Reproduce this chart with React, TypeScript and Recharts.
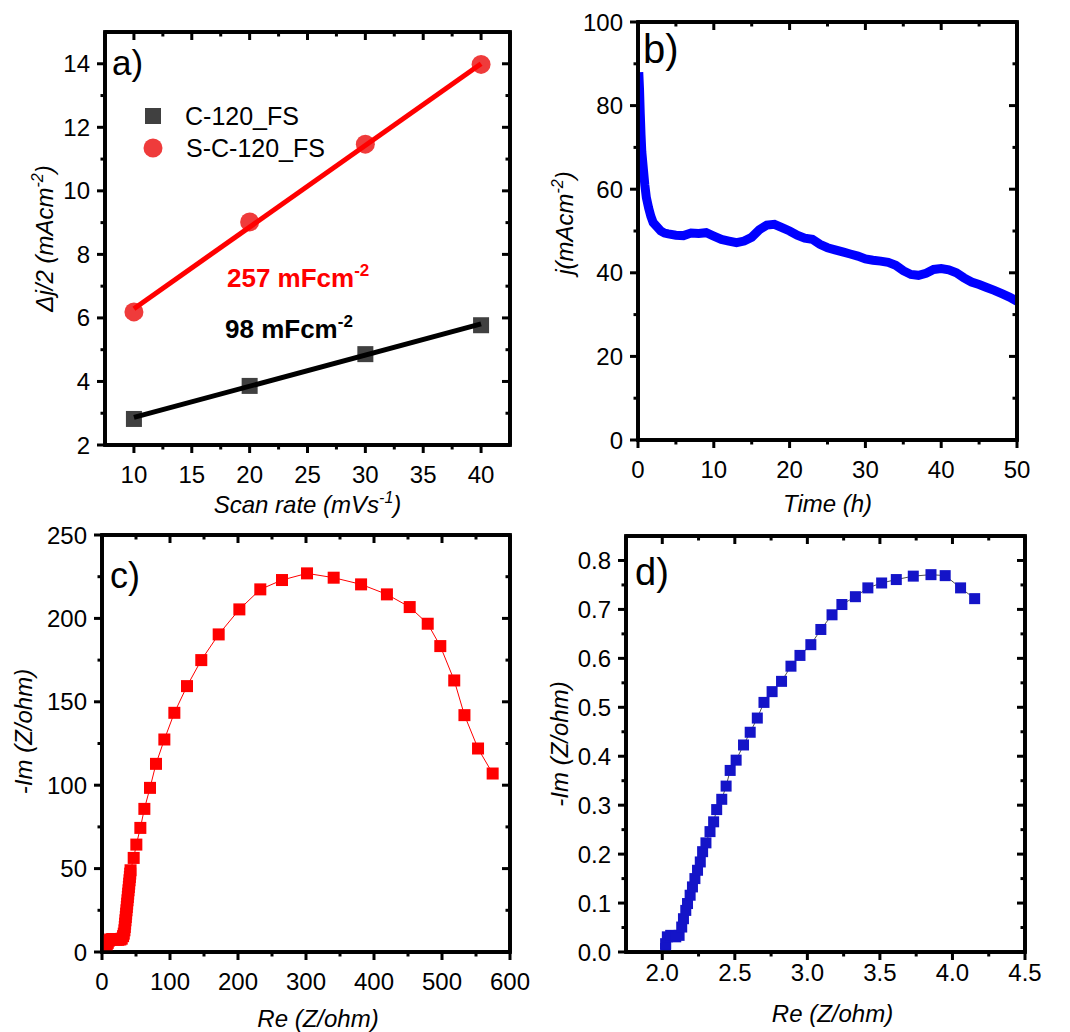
import React from 'react';
import { ComposedChart, Scatter, Line, XAxis, YAxis, Label, ReferenceArea } from 'recharts';

const FONT = '"Liberation Sans", Arial, Helvetica, sans-serif';

// a) half current density difference vs scan rate
const scanRate = [10, 20, 30, 40];
const djC120 = [2.82, 3.86, 4.86, 5.77];
const djSC120 = [6.19, 9.02, 11.47, 13.98];
const fitRate = [10, 40];
const fitC120 = [2.87, 5.81];
const fitSC120 = [6.29, 14.0];

// b) chronoamperometry
const timeH = [
  0.1, 0.2, 0.3, 0.4, 0.5, 0.7, 0.9, 1.1, 1.4, 1.7, 2.0, 2.5, 3.0, 3.5, 4, 5, 6, 7, 8, 9, 10,
  11, 12, 13, 14, 15, 16, 17, 18, 19, 20, 21, 22, 23, 24, 25, 26, 27, 28, 29, 30, 31, 32, 33,
  34, 35, 36, 37, 38, 39, 40, 41, 42, 43, 44, 45, 46, 47, 48, 49, 50,
];
const currentJ = [
  88, 84, 78, 73, 69, 65, 61, 58, 55.5, 53.5, 52, 51, 50, 49.5, 49.3, 49, 48.9, 49.5, 49.4,
  49.6, 48.8, 48, 47.6, 47.2, 47.6, 48.5, 50.3, 51.4, 51.6, 50.8, 50, 49, 48.3, 48, 46.8, 46,
  45.5, 45, 44.5, 44, 43.3, 43, 42.8, 42.5, 41.8, 40.5, 39.6, 39.4, 39.9, 40.8, 41, 40.7, 40,
  38.8, 37.8, 37.2, 36.5, 35.8, 35, 34.2, 33.2,
];

// c) Nyquist C-120_FS
const reC = [
  5, 6, 7, 8.5, 10, 12, 15, 18, 21, 24, 27, 29, 31, 32, 33, 33.5, 34, 34.5, 35, 35.5, 36,
  36.5, 37, 37.5, 38, 38.5, 39, 39.5, 40, 40.5, 41, 41.5, 42, 46.6, 50.5, 56.4, 62.3, 70.6,
  79.4, 91.7, 106.4, 125, 146, 171.6, 202, 232.8, 264.7, 301.5, 340.7, 381, 419, 452.5, 479,
  497.5, 518, 533, 553, 574.5,
];
const imC = [
  0.5, 2.5, 4, 5.5, 6.8, 7.5, 7.8, 7.6, 7.4, 7.3, 7.5, 8, 9.5, 11, 13, 15, 17, 19, 21, 23, 25,
  27, 29, 31, 33, 35, 37, 39, 41, 43, 45, 47, 49, 56.4, 64.4, 74.4, 85.8, 98.4, 112.8, 127.4,
  143.4, 159.4, 175, 190.4, 205.4, 217.4, 223, 227, 224.4, 220.4, 214.4, 206.8, 196.8, 183.4,
  162.8, 142, 122, 107,
];

// d) Nyquist S-C-120_FS
const reD = [
  2.023, 2.023, 2.035, 2.058, 2.093, 2.116, 2.134, 2.146, 2.162, 2.174, 2.192, 2.208, 2.225,
  2.243, 2.262, 2.278, 2.301, 2.329, 2.354, 2.375, 2.41, 2.44, 2.468, 2.509, 2.56, 2.606,
  2.655, 2.701, 2.757, 2.822, 2.887, 2.949, 3.024, 3.093, 3.17, 3.238, 3.331, 3.417, 3.512,
  3.613, 3.73, 3.852, 3.95, 4.056, 4.153,
];
const imD = [
  0.007, 0.017, 0.031, 0.034, 0.031, 0.034, 0.051, 0.068, 0.085, 0.099, 0.116, 0.133, 0.15,
  0.167, 0.184, 0.205, 0.223, 0.246, 0.266, 0.291, 0.312, 0.339, 0.371, 0.392, 0.423, 0.449,
  0.478, 0.51, 0.532, 0.553, 0.584, 0.606, 0.628, 0.659, 0.689, 0.71, 0.726, 0.744, 0.754,
  0.761, 0.768, 0.771, 0.769, 0.744, 0.722,
];

// axis ticks (major / minor)
const aXMajor = [10, 15, 20, 25, 30, 35, 40];
const aXMinor = [12.5, 17.5, 22.5, 27.5, 32.5, 37.5];
const aYMajor = [2, 4, 6, 8, 10, 12, 14];
const aYMinor = [3, 5, 7, 9, 11, 13];
const bXMajor = [0, 10, 20, 30, 40, 50];
const bXMinor = [5, 15, 25, 35, 45];
const bYMajor = [0, 20, 40, 60, 80, 100];
const bYMinor = [10, 30, 50, 70, 90];
const cXMajor = [0, 100, 200, 300, 400, 500, 600];
const cXMinor = [50, 150, 250, 350, 450, 550];
const cYMajor = [0, 50, 100, 150, 200, 250];
const cYMinor = [25, 75, 125, 175, 225];
const dXMajor = [2.0, 2.5, 3.0, 3.5, 4.0, 4.5];
const dXMinor = [2.25, 2.75, 3.25, 3.75, 4.25];
const dYMajor = [0, 0.1, 0.2, 0.3, 0.4, 0.5, 0.6, 0.7, 0.8];
const dYMinor = [0.05, 0.15, 0.25, 0.35, 0.45, 0.55, 0.65, 0.75];

const pts = (xs: number[], ys: number[]) => xs.map((x, i) => ({ x, y: ys[i] }));

// panel placement on the page
const Y_W = 60;
const X_H = 60;
const PANEL_A = { left: 0, top: 0, w: 540, h: 520, m: { top: 31, right: 29, bottom: 15, left: 45 } };
const PANEL_B = { left: 530, top: 0, w: 540, h: 520, m: { top: 21, right: 52, bottom: 20, left: 48 } };
const PANEL_C = { left: 0, top: 520, w: 540, h: 512, m: { top: 14, right: 29, bottom: 20, left: 42 } };
const PANEL_D = { left: 530, top: 520, w: 540, h: 512, m: { top: 15, right: 44, bottom: 20, left: 36 } };

function plotRect(p: typeof PANEL_A) {
  const x = p.left + p.m.left + Y_W;
  const y = p.top + p.m.top + 1;
  return { x, y, w: p.left + p.w - p.m.right - 1 - x, h: p.top + p.h - p.m.bottom - X_H - y };
}

type Side = 'bottom' | 'top' | 'left' | 'right';

function axisTick(side: Side, majors: number[], fmt: (v: number) => string, gap = 38) {
  return (props: any) => {
    const { x, y, payload } = props;
    const v = Number(payload.value);
    const major = majors.some((m) => Math.abs(m - v) < 1e-6);
    const len = major ? 8 : 4.5;
    const ln = { stroke: '#000', strokeWidth: 3 };
    const txt = { fontFamily: FONT, fontSize: 24, fill: '#000', stroke: 'none' };
    if (side === 'bottom')
      return (
        <g>
          <line x1={x} y1={y} x2={x} y2={y + len} {...ln} />
          {major && (
            <text x={x} y={y + gap} textAnchor="middle" {...txt}>
              {fmt(v)}
            </text>
          )}
        </g>
      );
    if (side === 'top') return <line x1={x} y1={y} x2={x} y2={y + len} {...ln} />;
    if (side === 'left')
      return (
        <g>
          <line x1={x} y1={y} x2={x - len} y2={y} {...ln} />
          {major && (
            <text x={x - 15} y={y + 8.5} textAnchor="end" {...txt}>
              {fmt(v)}
            </text>
          )}
        </g>
      );
    return <line x1={x} y1={y} x2={x - len} y2={y} {...ln} />;
  };
}

const titleFont = { fontFamily: FONT, fontSize: 24, fontStyle: 'italic' as const, fill: '#000' };

function xTitle(parts: React.ReactNode, gap: number, dx = 0) {
  return (props: any) => {
    const vb = props.viewBox;
    return (
      <text x={vb.x + vb.width / 2 + dx} y={vb.y + gap} textAnchor="middle" {...titleFont}>
        {parts}
      </text>
    );
  };
}

function yTitle(parts: React.ReactNode, gap: number, dy = 0) {
  return (props: any) => {
    const vb = props.viewBox;
    const bx = vb.x + vb.width - gap;
    const cy = vb.y + vb.height / 2 + dy;
    return (
      <text transform={`translate(${bx},${cy}) rotate(-90)`} textAnchor="middle" {...titleFont}>
        {parts}
      </text>
    );
  };
}

const sup = (s: string) => [
  <tspan key="s" dy={-10} fontSize={16}>
    {s}
  </tspan>,
  <tspan key="e" dy={10}>
    )
  </tspan>,
];

const axisLine = { stroke: '#000', strokeWidth: 3.5 };

// shared props for the four axes of a box frame
function xAxisProps(domain: number[], major: number[], minor: number[], side: Side, fmt: (v: number) => string, gap = 38) {
  return {
    xAxisId: side === 'bottom' ? 'b' : 't',
    orientation: side as 'bottom' | 'top',
    dataKey: 'x',
    type: 'number' as const,
    domain,
    allowDataOverflow: true,
    ticks: [...major, ...minor].sort((a, b) => a - b),
    interval: 0 as const,
    tickSize: 0,
    tickMargin: 0,
    tickLine: false,
    axisLine,
    height: side === 'bottom' ? X_H : 1,
    tick: axisTick(side, major, fmt, gap),
  };
}

function yAxisProps(domain: number[], major: number[], minor: number[], side: Side, fmt: (v: number) => string) {
  return {
    yAxisId: side === 'left' ? 'l' : 'r',
    orientation: side as 'left' | 'right',
    dataKey: 'y',
    type: 'number' as const,
    domain,
    allowDataOverflow: true,
    ticks: [...major, ...minor].sort((a, b) => a - b),
    interval: 0 as const,
    tickSize: 0,
    tickMargin: 0,
    tickLine: false,
    axisLine,
    width: side === 'left' ? Y_W : 1,
    tick: axisTick(side, major, fmt),
  };
}

const square = (size: number, color: string) => (p: any) => (
  <rect x={p.cx - size / 2} y={p.cy - size / 2} width={size} height={size} fill={color} />
);
const dot = (r: number, color: string) => (p: any) => <circle cx={p.cx} cy={p.cy} r={r} fill={color} />;
const noMark = () => <g />;

const int = (v: number) => String(v);
const one = (v: number) => v.toFixed(1);

const RED = '#ff0000';
const PT_RED = '#ef3b3b';
const GREY = '#404040';
const BLUE = '#0000ff';
const NAVY = '#1414c8';

const A_X = [7.5, 42.5];
const A_Y = [2, 15];
const B_X = [0, 50];
const B_Y = [0, 100];
const C_X = [0, 600];
const C_Y = [0, 250];
const D_X = [1.75, 4.5];
const D_Y = [0, 0.85];

export default function App() {
  const aC = pts(scanRate, djC120);
  const aS = pts(scanRate, djSC120);
  const aFitC = pts(fitRate, fitC120);
  const aFitS = pts(fitRate, fitSC120);
  const bData = pts(timeH, currentJ);
  const cData = pts(reC, imC);
  const dData = pts(reD, imD);

  const box = (p: typeof PANEL_A): React.CSSProperties => ({ position: 'absolute', left: p.left, top: p.top });
  const frames = [PANEL_A, PANEL_B, PANEL_C, PANEL_D].map(plotRect);

  return (
    <div style={{ position: 'absolute', left: 0, top: 0, width: 1070, height: 1032, background: '#fff' }}>
      <div style={box(PANEL_A)}>
        <ComposedChart width={PANEL_A.w} height={PANEL_A.h} margin={PANEL_A.m}>
          <XAxis {...xAxisProps(A_X, aXMajor, aXMinor, 'bottom', int)}>
            <Label content={xTitle(['Scan rate (mVs', sup('-1')], 68)} />
          </XAxis>
          <XAxis {...xAxisProps(A_X, aXMajor, aXMinor, 'top', int)} />
          <YAxis {...yAxisProps(A_Y, aYMajor, aYMinor, 'left', int)}>
            <Label content={yTitle(['\u0394j/2 (mAcm', sup('-2')], 52)} />
          </YAxis>
          <YAxis {...yAxisProps(A_Y, aYMajor, aYMinor, 'right', int)} />
          <ReferenceArea xAxisId="b" yAxisId="l" x1={A_X[0]} x2={A_X[1]} y1={A_Y[0]} y2={A_Y[1]} fill="none" stroke="#000" strokeWidth={3.5} ifOverflow="visible" />
          <Scatter data={aS} xAxisId="t" yAxisId="r" shape={noMark} isAnimationActive={false} />
          <Scatter data={aC} xAxisId="b" yAxisId="l" shape={square(16, GREY)} isAnimationActive={false} />
          <Scatter data={aS} xAxisId="b" yAxisId="l" shape={dot(9.5, PT_RED)} isAnimationActive={false} />
          <Scatter data={aFitC} xAxisId="b" yAxisId="l" shape={noMark} line={{ stroke: '#000', strokeWidth: 5 }} isAnimationActive={false} />
          <Scatter data={aFitS} xAxisId="b" yAxisId="l" shape={noMark} line={{ stroke: RED, strokeWidth: 5 }} isAnimationActive={false} />
        </ComposedChart>
      </div>

      <div style={box(PANEL_B)}>
        <ComposedChart width={PANEL_B.w} height={PANEL_B.h} data={bData} margin={PANEL_B.m}>
          <XAxis {...xAxisProps(B_X, bXMajor, bXMinor, 'bottom', int)}>
            <Label content={xTitle('Time (h)', 72)} />
          </XAxis>
          <XAxis {...xAxisProps(B_X, bXMajor, bXMinor, 'top', int)} />
          <YAxis {...yAxisProps(B_Y, bYMajor, bYMinor, 'left', int)}>
            <Label content={yTitle(['j(mAcm', sup('-2')], 65, -8)} />
          </YAxis>
          <YAxis {...yAxisProps(B_Y, bYMajor, bYMinor, 'right', int)} />
          <ReferenceArea xAxisId="b" yAxisId="l" x1={B_X[0]} x2={B_X[1]} y1={B_Y[0]} y2={B_Y[1]} fill="none" stroke="#000" strokeWidth={3.5} ifOverflow="visible" />
          <Scatter data={bData} xAxisId="t" yAxisId="r" shape={noMark} isAnimationActive={false} />
          <Line xAxisId="b" yAxisId="l" dataKey="y" type="linear" stroke={BLUE} strokeWidth={9} dot={false} isAnimationActive={false} />
        </ComposedChart>
      </div>

      <div style={box(PANEL_C)}>
        <ComposedChart width={PANEL_C.w} height={PANEL_C.h} margin={PANEL_C.m}>
          <XAxis {...xAxisProps(C_X, cXMajor, cXMinor, 'bottom', int)}>
            <Label content={xTitle('Re (Z/ohm)', 75, 12)} />
          </XAxis>
          <XAxis {...xAxisProps(C_X, cXMajor, cXMinor, 'top', int)} />
          <YAxis {...yAxisProps(C_Y, cYMajor, cYMinor, 'left', int)}>
            <Label content={yTitle('-Im (Z/ohm)', 70, -12)} />
          </YAxis>
          <YAxis {...yAxisProps(C_Y, cYMajor, cYMinor, 'right', int)} />
          <ReferenceArea xAxisId="b" yAxisId="l" x1={C_X[0]} x2={C_X[1]} y1={C_Y[0]} y2={C_Y[1]} fill="none" stroke="#000" strokeWidth={3.5} ifOverflow="visible" />
          <Scatter data={cData} xAxisId="t" yAxisId="r" shape={noMark} isAnimationActive={false} />
          <Scatter data={cData} xAxisId="b" yAxisId="l" shape={square(12, RED)} line={{ stroke: RED, strokeWidth: 1 }} isAnimationActive={false} />
        </ComposedChart>
      </div>

      <div style={box(PANEL_D)}>
        <ComposedChart width={PANEL_D.w} height={PANEL_D.h} margin={PANEL_D.m}>
          <XAxis {...xAxisProps(D_X, dXMajor, dXMinor, 'bottom', one, 29)}>
            <Label content={xTitle('Re (Z/ohm)', 70, 7)} />
          </XAxis>
          <XAxis {...xAxisProps(D_X, dXMajor, dXMinor, 'top', one)} />
          <YAxis {...yAxisProps(D_Y, dYMajor, dYMinor, 'left', one)}>
            <Label content={yTitle('-Im (Z/ohm)', 58)} />
          </YAxis>
          <YAxis {...yAxisProps(D_Y, dYMajor, dYMinor, 'right', one)} />
          <ReferenceArea xAxisId="b" yAxisId="l" x1={D_X[0]} x2={D_X[1]} y1={D_Y[0]} y2={D_Y[1]} fill="none" stroke="#000" strokeWidth={3.5} ifOverflow="visible" />
          <Scatter data={dData} xAxisId="t" yAxisId="r" shape={noMark} isAnimationActive={false} />
          <Scatter data={dData} xAxisId="b" yAxisId="l" shape={square(11, NAVY)} line={{ stroke: '#222', strokeWidth: 0.8 }} isAnimationActive={false} />
        </ComposedChart>
      </div>

      <svg
        width={1070}
        height={1032}
        style={{ position: 'absolute', left: 0, top: 0, pointerEvents: 'none' }}
        fontFamily={FONT}
      >
        {frames.map((f, i) => (
          <rect key={i} x={f.x} y={f.y} width={f.w} height={f.h} fill="none" stroke="#000" strokeWidth={3.5} />
        ))}

        <text x={112} y={75} fontSize={35}>a)</text>
        <text x={643} y={63} fontSize={40}>b)</text>
        <text x={110} y={588} fontSize={36}>c)</text>
        <text x={635} y={585} fontSize={38}>d)</text>

        <rect x={145} y={108} width={16} height={16} fill={GREY} />
        <text x={185} y={125} fontSize={25}>C-120_FS</text>
        <circle cx={153} cy={148} r={9.5} fill={PT_RED} />
        <text x={186} y={157} fontSize={25}>S-C-120_FS</text>

        <text x={227} y={287} fontSize={26} fontWeight="bold" fill={RED}>
          257 mFcm<tspan dy={-11} fontSize={17}>-2</tspan>
        </text>
        <text x={225} y={338} fontSize={26} fontWeight="bold" fill="#000">
          98 mFcm<tspan dy={-11} fontSize={17}>-2</tspan>
        </text>
      </svg>
    </div>
  );
}
